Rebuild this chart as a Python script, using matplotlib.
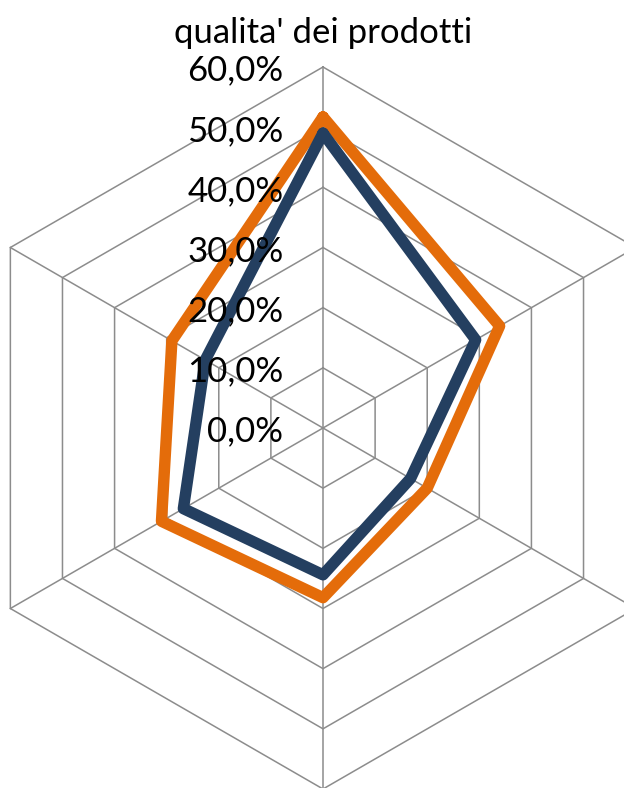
import numpy as np
import matplotlib.pyplot as plt

# categories (unlabelled in the original), clockwise from the top
categories = ["1", "2", "3", "4", "5", "6"]
serie_blu = [49.0, 29.3, 16.8, 24.4, 26.8, 22.6]
serie_arancio = [51.7, 33.9, 20.0, 28.2, 31.0, 29.0]
ticks = [0, 10, 20, 30, 40, 50, 60]
tick_labels = ["0,0%", "10,0%", "20,0%", "30,0%", "40,0%", "50,0%", "60,0%"]
title = "qualita' dei prodotti"

plt.rcParams["font.family"] = ["Lato", "DejaVu Sans"]

W, H = 624, 788
fig = plt.figure(figsize=(W / 100, H / 100), dpi=100)
ax = fig.add_axes([0, 0, 1, 1])
ax.set_axis_off()

# pixel geometry of the reference: centre at (323, 428), 60% -> 361 px
px = 361 / 60.0
ax.set_xlim(-323 / px, (W - 323) / px)
ax.set_ylim(-(H - 428) / px, 428 / px)

n = len(categories)
ang = np.deg2rad(90 - 60 * np.arange(n))
ang_c = np.append(ang, ang[0])

grid_col = "#8c8c8c"
for t in ticks[1:]:
    ax.plot(t * np.cos(ang_c), t * np.sin(ang_c), color=grid_col, lw=1.1, zorder=1)
for a in ang:
    ax.plot([0, ticks[-1] * np.cos(a)], [0, ticks[-1] * np.sin(a)],
            color=grid_col, lw=1.1, zorder=1)


def draw(vals, col, z):
    v = np.append(vals, vals[0])
    ax.plot(v * np.cos(ang_c), v * np.sin(ang_c), color=col, lw=8.2,
            solid_joinstyle="round", solid_capstyle="round", zorder=z)


draw(serie_blu, "#243f60", 3)
draw(serie_arancio, "#e46c0a", 2)

for t, lab in zip(ticks, tick_labels):
    ax.text(-6.6, t - 0.6, lab, ha="right", va="center", fontsize=25, color="black", zorder=5)

ax.text(0, 65.6, title, ha="center", va="center", fontsize=25, color="black")

fig.savefig("out.png", dpi=100)
